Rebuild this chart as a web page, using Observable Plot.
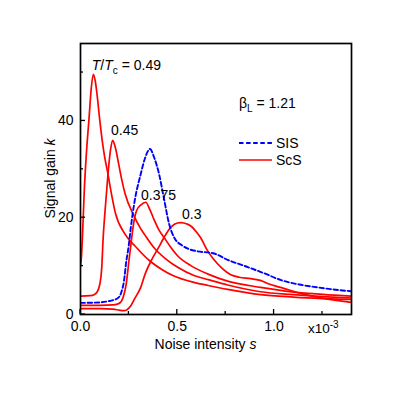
<!DOCTYPE html>
<html>
<head>
<meta charset="utf-8">
<script src="https://cdn.jsdelivr.net/npm/d3@7"></script>
<script src="https://cdn.jsdelivr.net/npm/@observablehq/plot@0.6"></script>
<style>
  html, body { margin: 0; padding: 0; background: #fff; }
  #chart { width: 395px; height: 395px; }
</style>
</head>
<body>
<div id="chart"></div>
<script>
// ---- Data (s in units of 1e-3, k = signal gain) ----
const s_049 = [0, 0.005, 0.01, 0.02, 0.03, 0.045, 0.055, 0.066, 0.076, 0.086, 0.1, 0.112, 0.125, 0.142, 0.154, 0.18, 0.23, 0.29, 0.36, 0.42, 0.48, 0.59, 0.66, 0.76, 0.93, 1.1, 1.25, 1.4];
const k_049 = [10, 12, 16, 26, 33, 41, 46.5, 49.6, 48.3, 45.3, 40, 36, 32.5, 29, 26.2, 21, 16.6, 13.8, 11, 9.3, 8.0, 6.6, 6.0, 5.2, 4.1, 3.6, 3.3, 3.1];

const s_045 = [0, 0.05, 0.07, 0.085, 0.1, 0.11, 0.116, 0.13, 0.142, 0.155, 0.166, 0.18, 0.2, 0.215, 0.23, 0.275, 0.31, 0.335, 0.38, 0.44, 0.5, 0.59, 0.66, 0.76, 0.93, 1.1, 1.25, 1.4];
const k_045 = [3.8, 3.9, 4.1, 4.6, 6.3, 9.8, 15, 23, 29, 34, 36, 34.5, 30.5, 27.5, 25, 20.5, 17.8, 16.3, 13.8, 11.5, 9.8, 8.0, 7.2, 6.1, 4.7, 4.1, 3.7, 3.4];

const s_0375 = [0, 0.1, 0.17, 0.2, 0.22, 0.235, 0.25, 0.262, 0.275, 0.29, 0.311, 0.337, 0.36, 0.38, 0.405, 0.432, 0.466, 0.5, 0.57, 0.656, 0.76, 0.93, 1.05, 1.2, 1.4];
const k_0375 = [1.9, 1.9, 2.0, 2.3, 3.5, 6, 11, 15, 19, 21.5, 22.6, 23.2, 21.5, 19.6, 17.5, 15.9, 13.9, 12.2, 10.1, 8.4, 6.9, 5.6, 4.9, 4.3, 3.8];

const s_03 = [0, 0.1, 0.17, 0.2, 0.223, 0.24, 0.26, 0.28, 0.31, 0.335, 0.37, 0.4, 0.43, 0.466, 0.5, 0.52, 0.55, 0.57, 0.6, 0.62, 0.656, 0.69, 0.725, 0.777, 0.82, 0.88, 0.933, 0.967, 1.05, 1.14, 1.25, 1.4];
const k_03 = [1.2, 1.2, 1.1, 0.9, 0.8, 1.0, 1.8, 3.3, 5.5, 8.5, 11.5, 13.6, 15.8, 18, 18.9, 19.0, 18.7, 18.3, 17, 15.9, 13.2, 11.3, 9.8, 8.2, 7.7, 7.4, 7.0, 6.4, 5.4, 4.3, 3.4, 2.5];

const s_sis = [0, 0.1, 0.15, 0.19, 0.21, 0.225, 0.235, 0.249, 0.26, 0.28, 0.311, 0.335, 0.359, 0.38, 0.406, 0.43, 0.458, 0.49, 0.52, 0.555, 0.6, 0.69, 0.76, 0.864, 0.95, 1.036, 1.13, 1.226, 1.3, 1.4];
const k_sis = [2.4, 2.5, 2.8, 3.3, 4.5, 7, 10.5, 14.2, 18, 23.5, 29, 32.5, 34.2, 32.5, 29, 24.2, 18.7, 15.5, 14.4, 13.6, 13.1, 12.6, 11.3, 9.8, 8.5, 7.1, 6.2, 5.6, 5.2, 4.8];

const scsSeries = [
  {T: "0.49", s: s_049, k: k_049},
  {T: "0.45", s: s_045, k: k_045},
  {T: "0.375", s: s_0375, k: k_0375},
  {T: "0.3", s: s_03, k: k_03}
];

const xMajorTicks = [0, 0.5, 1.0];
const xMinorTicks = [0.25, 0.75, 1.25];
const yMajorTicks = [0, 20, 40];
const yMinorTicks = [10, 30, 50];

const curveLabels = [
  {T: "0.45", s: 0.16, k: 37.0},
  {T: "0.375", s: 0.315, k: 23.6},
  {T: "0.3", s: 0.527, k: 19.6}
];

// ---- Build tables ----
const scsRows = scsSeries.flatMap(d => d.s.map((s, i) => ({T: d.T, s, k: d.k[i]})));
const sisRows = s_sis.map((s, i) => ({s, k: k_sis[i]}));

const FONT = "Arial, 'Liberation Sans', Helvetica, sans-serif";
const RED = "#ff0000";
const BLUE = "#0000ff";
const DASH = "4.5,2.6";

const chart = Plot.plot({
  width: 395,
  height: 395,
  marginLeft: 80,
  marginRight: 44,
  marginTop: 43,
  marginBottom: 81,
  style: {fontFamily: FONT, background: "#fff", color: "#000"},
  x: {domain: [0, 1.4], label: null},
  y: {domain: [0, 56], label: null},
  marks: [
    Plot.line(scsRows, {x: "s", y: "k", z: "T", stroke: RED, strokeWidth: 1.7, curve: "monotone-x", clip: true}),
    Plot.line(sisRows, {x: "s", y: "k", stroke: BLUE, strokeWidth: 1.9, strokeDasharray: DASH, curve: "monotone-x", clip: true}),
    Plot.axisX({ticks: xMajorTicks, tickSize: 0, tickPadding: 7, tickFormat: d => d.toFixed(1), fontSize: 14, label: null}),
    Plot.axisY({ticks: yMajorTicks, tickSize: 0, tickPadding: 7, tickFormat: d => String(d), fontSize: 14, label: null}),
    Plot.frame({stroke: "#000", strokeWidth: 1.7})
  ]
});

document.getElementById("chart").appendChild(chart);

// ---- Ticks (inward), annotations, legend via the Plot scales ----
const xs = chart.scale("x");
const ys = chart.scale("y");
const X = v => xs.apply(v);
const Y = v => ys.apply(v);
const svg = d3.select(chart);
const x0 = X(0), x1 = X(1.4), y0 = Y(0), y1 = Y(56);

const g = svg.append("g").attr("stroke", "#000").attr("stroke-width", 1.3);
xMajorTicks.forEach(v => g.append("line").attr("x1", X(v)).attr("x2", X(v)).attr("y1", y0).attr("y2", y0 - 5));
xMinorTicks.forEach(v => g.append("line").attr("x1", X(v)).attr("x2", X(v)).attr("y1", y0).attr("y2", y0 - 3));
yMajorTicks.forEach(v => g.append("line").attr("x1", x0).attr("x2", x0 + 5).attr("y1", Y(v)).attr("y2", Y(v)));
yMinorTicks.forEach(v => g.append("line").attr("x1", x0).attr("x2", x0 + 3).attr("y1", Y(v)).attr("y2", Y(v)));

const t = svg.append("g").attr("font-family", FONT).attr("fill", "#000").attr("text-anchor", "start");

// axis titles
const xt = t.append("text").attr("x", (x0 + x1) / 2 - 10).attr("y", y0 + 35).attr("text-anchor", "middle").attr("font-size", 14);
xt.append("tspan").text("Noise intensity ");
xt.append("tspan").attr("font-style", "italic").text("s");

const yt = t.append("text").attr("transform", `translate(${x0 - 25},${(y0 + y1) / 2}) rotate(-90)`).attr("text-anchor", "middle").attr("font-size", 14);
yt.append("tspan").text("Signal gain ");
yt.append("tspan").attr("font-style", "italic").text("k");

// x10^-3
const ex = t.append("text").attr("x", x1 - 43).attr("y", y0 + 19).attr("font-size", 13.5);
ex.append("tspan").text("x10");
ex.append("tspan").attr("dy", -5).attr("font-size", 10).text("-3");

// T/Tc = 0.49
const tt = t.append("text").attr("x", X(0.061)).attr("y", Y(50.5)).attr("font-size", 14);
tt.append("tspan").attr("font-style", "italic").text("T");
tt.append("tspan").text("/");
tt.append("tspan").attr("font-style", "italic").text("T");
tt.append("tspan").attr("dy", 4).attr("font-size", 10).text("c");
tt.append("tspan").attr("dy", -4).text(" = 0.49");

// other curve labels
curveLabels.forEach(d => {
  t.append("text").attr("x", X(d.s)).attr("y", Y(d.k)).attr("font-size", 14).text(d.T);
});

// beta_L = 1.21
const bt = t.append("text").attr("x", x0 + 159).attr("y", y1 + 65).attr("font-size", 14);
bt.append("tspan").text("β");
bt.append("tspan").attr("dy", 4).attr("font-size", 10).text("L");
bt.append("tspan").attr("dy", -4).text(" = 1.21");

// legend
const lx = x0 + 159, lw = 33;
const legend = [
  {name: "SIS", color: BLUE, dash: DASH, y: y1 + 100},
  {name: "ScS", color: RED, dash: null, y: y1 + 117}
];
legend.forEach(d => {
  svg.append("line").attr("x1", lx).attr("x2", lx + lw).attr("y1", d.y).attr("y2", d.y)
    .attr("stroke", d.color).attr("stroke-width", d.dash ? 1.9 : 1.7).attr("stroke-dasharray", d.dash);
  t.append("text").attr("x", lx + lw + 4).attr("y", d.y + 5).attr("font-size", 14).text(d.name);
});
</script>
</body>
</html>
